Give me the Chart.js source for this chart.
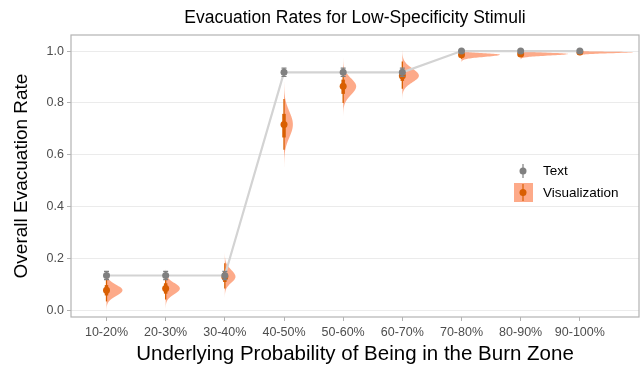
<!DOCTYPE html>
<html>
<head>
<meta charset="utf-8">
<script src="https://cdn.jsdelivr.net/npm/chart.js@4"></script>
<style>
  body { margin: 0; background: #fff; }
</style>
</head>
<body>
<canvas id="evacChart" width="643" height="367"></canvas>
<script>
const categories = ["10-20%", "20-30%", "30-40%", "40-50%", "50-60%", "60-70%", "70-80%", "80-90%", "90-100%"];

// Text condition: mean and error bar
const textRate = [0.135, 0.135, 0.135, 0.918, 0.918, 0.918, 1.0, 1.0, 1.0];
const textLow = [0.119, 0.119, 0.119, 0.902, 0.902, 0.902, 0.996, 0.996, 0.996];
const textHigh = [0.151, 0.151, 0.151, 0.934, 0.934, 0.934, 1.004, 1.004, 1.004];

// Visualization condition: point, 66% and 95% intervals, peak slab width (x units)
const vizRate = [0.078, 0.085, 0.130, 0.717, 0.864, 0.905, 0.986, 0.989, 0.996];
const vizLow66 = [0.058, 0.065, 0.110, 0.667, 0.835, 0.885, 0.980, 0.984, 0.993];
const vizHigh66 = [0.098, 0.105, 0.152, 0.758, 0.890, 0.928, 0.992, 0.994, 0.998];
const vizLow95 = [0.035, 0.042, 0.085, 0.620, 0.800, 0.855, 0.970, 0.977, 0.988];
const vizHigh95 = [0.120, 0.127, 0.182, 0.815, 0.925, 0.960, 0.997, 0.998, 0.999];
const vizPeak = [0.27, 0.24, 0.18, 0.15, 0.22, 0.28, 0.65, 0.80, 0.90];

const yTicks = [0, 0.2, 0.4, 0.6, 0.8, 1.0];

const grayPoint = "#808080";
const grayLine = "#D3D3D3";
const orangePoint = "#D95F02";
const slabFill = "rgba(252, 141, 98, 0.75)";
const fontName = '"Liberation Sans", Arial, sans-serif';

const extras = {
  id: "extras",
  beforeDatasetsDraw(chart) {
    const { ctx, chartArea, scales: { x, y } } = chart;
    ctx.save();
    ctx.beginPath();
    ctx.rect(chartArea.left, chartArea.top, chartArea.width, chartArea.height);
    ctx.clip();
    for (let i = 0; i < categories.length; i++) {
      const xv = i + 1;
      const m = vizRate[i];
      const sLo = (m - vizLow95[i]) / 1.96;
      const sHi = (vizHigh95[i] - m) / 1.96;
      ctx.beginPath();
      ctx.moveTo(x.getPixelForValue(xv), y.getPixelForValue(m - 3.5 * sLo));
      for (let k = 0; k <= 80; k++) {
        const z = -3.5 + 7 * k / 80;
        const yv = m + z * (z < 0 ? sLo : sHi);
        const w = vizPeak[i] * Math.exp(-0.5 * z * z);
        ctx.lineTo(x.getPixelForValue(xv + w), y.getPixelForValue(yv));
      }
      ctx.lineTo(x.getPixelForValue(xv), y.getPixelForValue(m + 3.5 * sHi));
      ctx.closePath();
      ctx.fillStyle = slabFill;
      ctx.fill();

      const px = x.getPixelForValue(xv);
      ctx.strokeStyle = orangePoint;
      ctx.lineCap = "butt";
      ctx.lineWidth = 1.3;
      ctx.beginPath();
      ctx.moveTo(px, y.getPixelForValue(vizLow95[i]));
      ctx.lineTo(px, y.getPixelForValue(vizHigh95[i]));
      ctx.stroke();
      ctx.lineWidth = 3.5;
      ctx.beginPath();
      ctx.moveTo(px, y.getPixelForValue(vizLow66[i]));
      ctx.lineTo(px, y.getPixelForValue(vizHigh66[i]));
      ctx.stroke();
    }
    ctx.restore();
  },
  afterDatasetsDraw(chart) {
    const { ctx, scales: { x, y } } = chart;
    ctx.save();
    ctx.strokeStyle = grayPoint;
    ctx.lineWidth = 1.2;
    for (let i = 0; i < categories.length; i++) {
      const px = x.getPixelForValue(i + 1);
      const lo = y.getPixelForValue(textLow[i]);
      const hi = y.getPixelForValue(textHigh[i]);
      ctx.beginPath();
      ctx.moveTo(px, lo); ctx.lineTo(px, hi);
      ctx.moveTo(px - 2.5, hi); ctx.lineTo(px + 2.5, hi);
      ctx.moveTo(px - 2.5, lo); ctx.lineTo(px + 2.5, lo);
      ctx.stroke();
    }
    ctx.restore();
  },
  afterDraw(chart) {
    const { ctx, chartArea } = chart;
    ctx.save();
    // panel border
    ctx.strokeStyle = "#B3B3B3";
    ctx.lineWidth = 1.2;
    ctx.strokeRect(chartArea.left, chartArea.top, chartArea.width, chartArea.height);

    // title
    ctx.fillStyle = "#000";
    ctx.font = "17.5px " + fontName;
    ctx.textAlign = "center";
    ctx.textBaseline = "middle";
    ctx.fillText("Evacuation Rates for Low-Specificity Stimuli", (chartArea.left + chartArea.right) / 2, 18);

    // legend
    const kx = 523;
    ctx.strokeStyle = grayPoint;
    ctx.lineWidth = 1.2;
    ctx.beginPath();
    ctx.moveTo(kx, 164); ctx.lineTo(kx, 178);
    ctx.stroke();
    ctx.fillStyle = grayPoint;
    ctx.beginPath();
    ctx.arc(kx, 171, 3.5, 0, Math.PI * 2);
    ctx.fill();

    ctx.fillStyle = slabFill;
    ctx.fillRect(514, 183, 19, 19);
    ctx.strokeStyle = orangePoint;
    ctx.beginPath();
    ctx.moveTo(kx, 184); ctx.lineTo(kx, 201);
    ctx.stroke();
    ctx.fillStyle = orangePoint;
    ctx.beginPath();
    ctx.arc(kx, 192.5, 3.5, 0, Math.PI * 2);
    ctx.fill();

    ctx.fillStyle = "#000";
    ctx.font = "13.5px " + fontName;
    ctx.textAlign = "left";
    ctx.fillText("Text", 543, 171);
    ctx.fillText("Visualization", 543, 193);
    ctx.restore();
  }
};

new Chart("evacChart", {
  type: "scatter",
  data: {
    datasets: [
      {
        label: "Text",
        data: textRate.map((v, i) => ({ x: i + 1, y: v })),
        backgroundColor: grayPoint,
        borderColor: grayPoint,
        pointRadius: 3.5,
        borderWidth: 0,
        order: 0,
      },
      {
        label: "Text line",
        data: textRate.map((v, i) => ({ x: i + 1, y: v })),
        showLine: true,
        borderColor: grayLine,
        borderWidth: 2.2,
        pointRadius: 0,
        order: 1,
      },
      {
        label: "Visualization",
        data: vizRate.map((v, i) => ({ x: i + 1, y: v })),
        backgroundColor: orangePoint,
        borderColor: orangePoint,
        pointRadius: 3.5,
        borderWidth: 0,
        order: 2,
      },
    ],
  },
  options: {
    responsive: false,
    animation: false,
    devicePixelRatio: 1,
    layout: { padding: { top: 35, right: 2, left: 0, bottom: 0 } },
    plugins: {
      legend: { display: false },
      tooltip: { enabled: false },
    },
    scales: {
      x: {
        type: "linear",
        min: 0.4,
        max: 10.0,
        afterBuildTicks: (scale) => {
          scale.ticks = categories.map((c, i) => ({ value: i + 1 }));
        },
        afterFit: (scale) => { scale.height = 50; },
        ticks: {
          autoSkip: false,
          maxRotation: 0,
          padding: 4,
          color: "#4D4D4D",
          font: { family: fontName, size: 12.5 },
          callback: (v) => categories[Math.round(v) - 1],
        },
        grid: {
          drawOnChartArea: false,
          drawTicks: true,
          tickLength: 4,
          tickColor: "#B3B3B3",
        },
        border: { display: false },
        title: {
          display: true,
          text: "Underlying Probability of Being in the Burn Zone",
          color: "#000",
          font: { family: fontName, size: 20.5 },
          padding: { top: 0, bottom: 0 },
        },
      },
      y: {
        min: -0.025,
        max: 1.062,
        afterBuildTicks: (scale) => {
          scale.ticks = yTicks.map((v) => ({ value: v }));
        },
        afterFit: (scale) => { scale.width = 71; },
        ticks: {
          padding: 3,
          color: "#4D4D4D",
          font: { family: fontName, size: 12.5 },
          callback: (v) => v.toFixed(1),
        },
        grid: {
          color: "#EBEBEB",
          lineWidth: 1,
          drawTicks: true,
          tickLength: 4,
          tickColor: "#B3B3B3",
        },
        border: { display: false },
        title: {
          display: true,
          text: "Overall Evacuation Rate",
          color: "#000",
          font: { family: fontName, size: 19 },
          padding: { top: 10, bottom: 0 },
        },
      },
    },
  },
  plugins: [extras],
});
</script>
</body>
</html>
